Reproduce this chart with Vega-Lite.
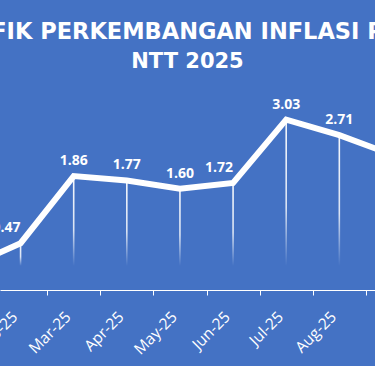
{
  "$schema": "https://vega.github.io/schema/vega-lite/v6.json",
  "width": 375,
  "height": 193,
  "autosize": {"type": "none"},
  "padding": {"left": 0, "right": 0, "top": 97, "bottom": 76},
  "background": "#4472C4",
  "config": {"view": {"stroke": null}},
  "title": {
    "text": "GRAFIK PERKEMBANGAN INFLASI PROV",
    "subtitle": "NTT 2025",
    "font": "DejaVu Sans",
    "fontWeight": "bold",
    "fontSize": 22.5,
    "color": "white",
    "subtitleFont": "DejaVu Sans",
    "subtitleFontWeight": "bold",
    "subtitleFontSize": 21,
    "subtitleColor": "white",
    "subtitlePadding": 8,
    "anchor": "middle",
    "offset": 25
  },
  "data": {
    "values": [
      {"i": 1, "bulan": "Jan-25", "v": -0.03, "lbl": "-0.03", "grp": "a"},
      {"i": 2, "bulan": "Feb-25", "v": 0.47, "lbl": "0.47", "grp": "b"},
      {"i": 3, "bulan": "Mar-25", "v": 1.86, "lbl": "1.86", "grp": "a"},
      {"i": 4, "bulan": "Apr-25", "v": 1.77, "lbl": "1.77", "grp": "a"},
      {"i": 5, "bulan": "May-25", "v": 1.60, "lbl": "1.60", "grp": "a"},
      {"i": 6, "bulan": "Jun-25", "v": 1.72, "lbl": "1.72", "grp": "b"},
      {"i": 7, "bulan": "Jul-25", "v": 3.03, "lbl": "3.03", "grp": "a"},
      {"i": 8, "bulan": "Aug-25", "v": 2.71, "lbl": "2.71", "grp": "a"},
      {"i": 9, "bulan": "Sep-25", "v": 2.30, "lbl": "2.30", "grp": "a"}
    ]
  },
  "resolve": {"axis": {"x": "independent"}},
  "layer": [
    {
      "mark": {
        "type": "bar",
        "size": 1.6,
        "fill": {
          "gradient": "linear",
          "x1": 0, "y1": 0, "x2": 0, "y2": 1,
          "stops": [
            {"offset": 0, "color": "rgba(255,255,255,0.95)"},
            {"offset": 0.6, "color": "rgba(255,255,255,0.8)"},
            {"offset": 1, "color": "rgba(255,255,255,0)"}
          ]
        }
      },
      "encoding": {
        "x": {
          "field": "i", "type": "quantitative",
          "scale": {"domain": [1.7069, 8.5775], "nice": false, "zero": false},
          "axis": {
            "orient": "bottom",
            "values": [1, 2, 3, 4, 5, 6, 7, 8, 9],
            "labelExpr": "['Jan-25','Feb-25','Mar-25','Apr-25','May-25','Jun-25','Jul-25','Aug-25','Sep-25'][datum.value - 1]",
            "labelAngle": -45,
            "labelAlign": "right",
            "labelBaseline": "middle",
            "labelColor": "white",
            "labelFont": "Open Sans",
            "labelFontSize": 15.5,
            "labelPadding": 24,
            "labelOffset": -6,
            "labelOverlap": false,
            "labelFlush": false,
            "labelBound": false,
            "ticks": false,
            "grid": false,
            "domain": true,
            "domainColor": "white",
            "domainWidth": 1,
            "title": null
          }
        },
        "y": {
          "field": "v", "type": "quantitative",
          "scale": {"domain": [-0.5, 3.5], "nice": false, "zero": false},
          "axis": null
        },
        "y2": {"datum": 0}
      }
    },
    {
      "mark": {"type": "line", "color": "white", "strokeWidth": 6, "strokeJoin": "miter"},
      "encoding": {
        "x": {
          "field": "i", "type": "quantitative",
          "axis": {
            "orient": "bottom",
            "values": [1.5, 2.5, 3.5, 4.5, 5.5, 6.5, 7.5, 8.5],
            "labels": false,
            "ticks": true,
            "tickColor": "white",
            "tickSize": 5,
            "tickWidth": 1,
            "domain": false,
            "grid": false,
            "title": null
          }
        },
        "y": {"field": "v", "type": "quantitative"}
      }
    },
    {
      "transform": [{"filter": "datum.grp == 'a'"}],
      "mark": {"type": "text", "color": "white", "font": "Open Sans", "fontWeight": "bold", "fontSize": 14, "baseline": "alphabetic", "dy": -11},
      "encoding": {
        "x": {"field": "i", "type": "quantitative", "axis": null},
        "y": {"field": "v", "type": "quantitative"},
        "text": {"field": "lbl"}
      }
    },
    {
      "transform": [{"filter": "datum.grp == 'b'"}],
      "mark": {"type": "text", "color": "white", "font": "Open Sans", "fontWeight": "bold", "fontSize": 14, "baseline": "alphabetic", "dy": -11, "dx": -14},
      "encoding": {
        "x": {"field": "i", "type": "quantitative", "axis": null},
        "y": {"field": "v", "type": "quantitative"},
        "text": {"field": "lbl"}
      }
    }
  ]
}
